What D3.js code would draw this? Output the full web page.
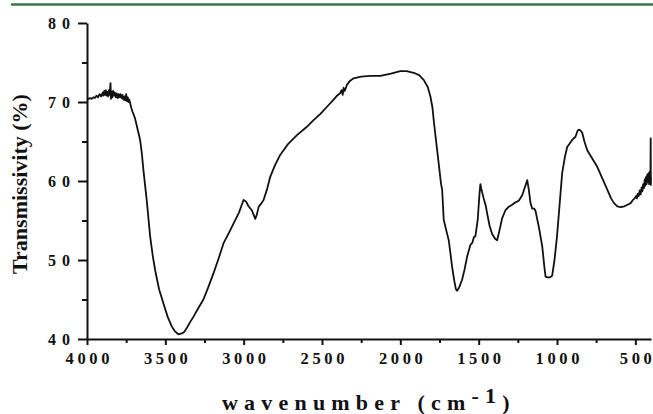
<!DOCTYPE html>
<html>
<head>
<meta charset="utf-8">
<script src="https://cdn.jsdelivr.net/npm/d3@7"></script>
<style>
  body { margin: 0; background: #fff; }
  svg { display: block; }
  .axis path, .axis line { stroke: #111; }
  .axis text { font-family: "Liberation Serif", "DejaVu Serif", serif; font-weight: bold; fill: #111; }
</style>
</head>
<body>
<div class="chart"></div>
<script>
// FTIR spectrum
var wavenumbers = [
  4000, 3990, 3980, 3970, 3960, 3950, 3940, 3930, 3920, 3910, 3900, 3895, 3890, 3885, 3880, 3875,
  3870, 3865, 3860, 3855, 3850, 3847, 3843, 3838, 3833, 3828, 3822, 3816, 3810, 3804, 3798, 3792,
  3786, 3780, 3774, 3768, 3762, 3756, 3750, 3745, 3740, 3735, 3730, 3725, 3718, 3710, 3700, 3693,
  3680, 3661, 3650, 3640, 3619, 3597, 3580, 3565, 3540, 3512, 3485, 3459, 3440, 3417, 3395, 3380,
  3363, 3340, 3321, 3290, 3257, 3225, 3193, 3160, 3129, 3095, 3065, 3030, 3001, 2985, 2969, 2948,
  2926, 2915, 2905, 2890, 2873, 2850, 2831, 2800, 2767, 2720, 2660, 2600, 2554, 2510, 2468, 2430,
  2404, 2385, 2375, 2368, 2362, 2355, 2340, 2320, 2298, 2250, 2192, 2128, 2060, 2000, 1960, 1915,
  1880, 1851, 1825, 1808, 1795, 1787, 1775, 1765, 1755, 1740, 1733, 1723, 1710, 1691, 1680, 1670,
  1655, 1645, 1638, 1625, 1606, 1590, 1574, 1553, 1540, 1530, 1521, 1506, 1495, 1489, 1483, 1468,
  1455, 1446, 1430, 1414, 1395, 1382, 1370, 1350, 1329, 1310, 1286, 1265, 1244, 1222, 1205, 1190,
  1180, 1169, 1158, 1145, 1137, 1116, 1094, 1080, 1073, 1060, 1045, 1031, 1016, 1000, 988, 967,
  950, 935, 903, 882, 868, 860, 850, 839, 825, 807, 780, 743, 710, 679, 655, 636,
  615, 594, 570, 550, 530, 515, 505, 495, 490, 485, 478, 472, 466, 460, 455, 450,
  445, 440, 436, 432, 428, 424, 420, 416, 412, 408, 404, 402, 401, 400
];
var transmissivity = [
  70.3, 70.4, 70.5, 70.4, 70.6, 70.5, 70.8, 70.6, 71.0, 70.7, 71.2, 70.8, 71.4, 70.9, 71.5, 70.8,
  71.3, 70.7, 71.5, 70.9, 72.4, 70.4, 71.3, 70.6, 71.4, 70.8, 71.2, 70.6, 71.1, 70.5, 71.0, 70.6,
  71.0, 70.5, 70.9, 70.3, 70.7, 70.2, 71.0, 70.1, 70.6, 70.0, 70.3, 69.9, 69.3, 68.8, 68.3, 67.9,
  66.8, 65.2, 63.5, 61.4, 57.6, 53.0, 50.5, 48.7, 46.3, 44.5, 42.8, 41.6, 41.0, 40.6, 40.7, 40.9,
  41.4, 42.2, 42.8, 43.9, 45.0, 46.6, 48.3, 50.2, 52.1, 53.4, 54.6, 56.0, 57.6, 57.4, 56.8, 56.3,
  55.2, 55.8, 56.7, 57.1, 57.6, 59.0, 60.5, 62.0, 63.3, 64.6, 65.8, 66.8, 67.7, 68.5, 69.4, 70.2,
  70.8, 71.1, 71.5, 70.9, 71.8, 71.4, 72.2, 72.7, 73.0, 73.2, 73.3, 73.3, 73.6, 73.9, 73.9, 73.7,
  73.4, 72.8, 71.9, 70.7, 69.3, 67.7, 65.6, 63.9, 62.2, 59.6, 58.9, 55.1, 54.0, 52.5, 50.8, 49.2,
  47.3, 46.3, 46.1, 46.5, 47.5, 48.8, 50.4, 51.9, 52.2, 52.9, 53.0, 55.1, 58.3, 59.6, 59.0, 57.8,
  56.9, 55.9, 54.3, 53.3, 52.7, 52.5, 53.5, 55.3, 56.3, 56.7, 57.0, 57.3, 57.5, 58.2, 59.2, 60.1,
  58.9, 57.2, 56.5, 56.5, 56.2, 54.2, 51.7, 49.0, 47.9, 47.8, 47.8, 48.0, 50.0, 53.0, 55.9, 61.0,
  63.0, 64.3, 65.2, 65.6, 66.4, 66.5, 66.4, 66.1, 65.0, 63.9, 63.0, 61.8, 60.3, 58.9, 57.8, 57.2,
  56.8, 56.7, 56.8, 57.0, 57.2, 57.6, 57.8, 58.1, 57.8, 58.4, 58.1, 58.8, 58.3, 59.2, 58.7, 59.6,
  59.1, 60.2, 59.4, 60.5, 59.6, 60.8, 59.9, 61.0, 59.6, 61.2, 59.8, 65.4, 59.5, 60.5
];
var xMajorTicks = [4000, 3500, 3000, 2500, 2000, 1500, 1000, 500];
var xMinorTicks = [3750, 3250, 2750, 2250, 1750, 1250, 750];
var yMajorTicks = [40, 50, 60, 70, 80];
var yMinorTicks = [45, 55, 65, 75];

var W = 653, H = 414;
var margin = {top: 23, right: 2, bottom: 75, left: 87},
  width = W - margin.left - margin.right,
  height = H - margin.top - margin.bottom;

var points = wavenumbers.map(function(w, i) {
  return {w: w, t: transmissivity[i]};
});

// spread the digits of a label without trailing space after the last one
function spreadDigits(sel, gap) {
  sel.each(function() {
    var t = d3.select(this), s = t.text();
    t.text(null);
    s.split('').forEach(function(c, i) {
      t.append('tspan').attr('dx', i ? gap : 0).text(c);
    });
  });
}

var svg = d3.select('.chart')
  .append('svg')
  .attr('width', W)
  .attr('height', H);

// green rule at the top of the page
svg.append('line')
  .attr('x1', 11).attr('x2', W)
  .attr('y1', 4.5).attr('y2', 4.5)
  .attr('stroke', '#3b7446')
  .attr('stroke-width', 2.5);

var chart = svg.append('g')
  .attr('transform', 'translate(' + margin.left + ',' + margin.top + ')');

var xScale = d3.scaleLinear().domain([4000, 400]).range([0, width]);
var yScale = d3.scaleLinear().domain([40, 80]).range([height, 0]);

// minor ticks
chart.append('g')
  .attr('class', 'axis')
  .attr('transform', 'translate(0,' + height + ')')
  .call(d3.axisBottom(xScale).tickValues(xMinorTicks).tickSize(4).tickSizeOuter(0).tickFormat(''))
  .call(function(g) { g.select('.domain').remove(); })
  .selectAll('line').attr('stroke-width', 2);

chart.append('g')
  .attr('class', 'axis')
  .call(d3.axisLeft(yScale).tickValues(yMinorTicks).tickSize(5).tickSizeOuter(0).tickFormat(''))
  .call(function(g) { g.select('.domain').remove(); })
  .selectAll('line').attr('stroke-width', 2);

// major axes
var xAxis = chart.append('g')
  .attr('class', 'axis x')
  .attr('transform', 'translate(0,' + height + ')')
  .call(d3.axisBottom(xScale).tickValues(xMajorTicks).tickFormat(d3.format('d'))
    .tickSize(6).tickPadding(7).tickSizeOuter(0));
xAxis.select('.domain').attr('stroke-width', 2);
xAxis.selectAll('line').attr('stroke-width', 2);
xAxis.selectAll('text')
  .attr('font-size', 16.5)
  .call(spreadDigits, 3.6);

var yAxis = chart.append('g')
  .attr('class', 'axis y')
  .call(d3.axisLeft(yScale).tickValues(yMajorTicks).tickFormat(d3.format('d'))
    .tickSize(9).tickPadding(8).tickSizeOuter(0));
yAxis.select('.domain').attr('stroke-width', 2);
yAxis.selectAll('line').attr('stroke-width', 2);
yAxis.selectAll('text')
  .attr('font-size', 16)
  .call(spreadDigits, 6);

// spectrum
var line = d3.line()
  .x(function(d) { return xScale(d.w); })
  .y(function(d) { return yScale(d.t); });

chart.append('path')
  .datum(points)
  .attr('fill', 'none')
  .attr('stroke', '#111')
  .attr('stroke-width', 1.8)
  .attr('stroke-linejoin', 'round')
  .attr('d', line);

// axis titles
svg.append('text')
  .attr('transform', 'translate(27,184) rotate(-90)')
  .attr('text-anchor', 'middle')
  .attr('font-family', '"Liberation Serif", serif')
  .attr('font-weight', 'bold')
  .attr('font-size', 22)
  .attr('fill', '#111')
  .text('Transmissivity (%)');

var xTitle = svg.append('text')
  .attr('x', 222)
  .attr('y', 410)
  .attr('font-family', '"Liberation Serif", serif')
  .attr('font-weight', 'bold')
  .attr('font-size', 22)
  .attr('letter-spacing', 6.2)
  .attr('fill', '#111');
xTitle.append('tspan').text('wavenumber (cm');
xTitle.append('tspan').attr('dy', -7).text('-1');
xTitle.append('tspan').attr('dy', 7).text(')');
</script>
</body>
</html>
